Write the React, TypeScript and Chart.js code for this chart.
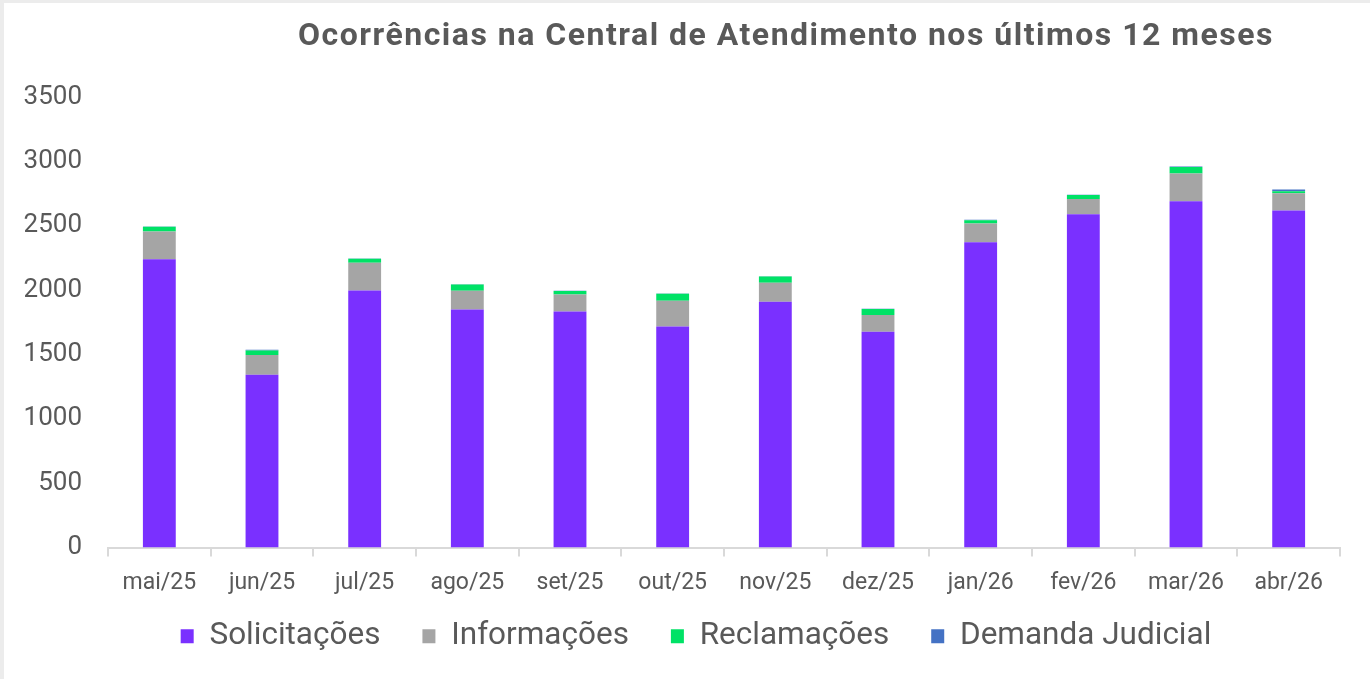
import React, { useEffect, useRef } from "react";
import { Chart, registerables } from "chart.js";

Chart.register(...registerables);

const categories = ["mai/25", "jun/25", "jul/25", "ago/25", "set/25", "out/25", "nov/25", "dez/25", "jan/26", "fev/26", "mar/26", "abr/26"];
const solicitacoes = [2240, 1342, 1997, 1849, 1834, 1717, 1909, 1676, 2372, 2589, 2690, 2618];
const informacoes = [215, 153, 215, 145, 132, 200, 147, 130, 145, 119, 215, 134];
const reclamacoes = [36, 36, 31, 49, 26, 54, 49, 46, 26, 31, 52, 16];
const demandaJudicial = [3, 6, 2, 2, 2, 2, 2, 2, 3, 2, 3, 13];
const yTicks = [0, 500, 1000, 1500, 2000, 2500, 3000, 3500];
const titleText = "Ocorrências na Central de Atendimento nos últimos 12 meses";

const FONT = "Roboto, 'Noto Sans', sans-serif";
const NARROW = "'Liberation Sans Narrow', Roboto, sans-serif";
const TEXT = "#595959";

export default function App() {
  const ref = useRef<HTMLCanvasElement | null>(null);

  useEffect(() => {
    document.body.style.margin = "0";
    document.body.style.background = "#ececec";
    if (!ref.current) return;
    const titlePlugin = {
      id: "customTitle",
      afterLayout(chart: any) {
        const lg = chart.legend;
        if (lg) {
          lg.left += 24;
          lg.right += 24;
          lg.top += 7;
          lg.bottom += 7;
        }
      },
      afterDraw(chart: any) {
        const ctx = chart.ctx;
        ctx.save();
        ctx.font = `bold 32px ${FONT}`;
        (ctx as any).letterSpacing = "1.5px";
        ctx.fillStyle = TEXT;
        ctx.textAlign = "center";
        ctx.textBaseline = "middle";
        ctx.fillText(titleText, 782, 34);
        ctx.restore();
      },
    };
    const chart = new Chart(ref.current, {
      type: "bar",
      data: {
        labels: categories,
        datasets: [
          { label: "Solicitações", data: solicitacoes, backgroundColor: "#7a30ff" },
          { label: "Informações", data: informacoes, backgroundColor: "#a5a5a5" },
          { label: "Reclamações", data: reclamacoes, backgroundColor: "#00e266" },
          { label: "Demanda Judicial", data: demandaJudicial, backgroundColor: "#4472c4" },
        ],
      },
      options: {
        animation: false,
        responsive: true,
        maintainAspectRatio: false,
        layout: { padding: { top: 94, right: 30, left: 0, bottom: 24 } },
        datasets: { bar: { categoryPercentage: 1, barPercentage: 0.32, borderWidth: 0 } },
        plugins: {
          title: { display: false },
          tooltip: { enabled: false },
          legend: {
            position: "bottom",
            labels: {
              boxWidth: 13,
              boxHeight: 14,
              padding: 42,
              color: TEXT,
              font: { family: FONT, size: 31.5 },
            },
          },
        },
        scales: {
          x: {
            stacked: true,
            afterFit: (s: any) => {
              s.height = 24;
              s._computeLabelArea = () => undefined;
            },
            grid: { offset: true, drawOnChartArea: false, drawTicks: true, tickLength: 9, color: "#d9d9d9", lineWidth: 2 },
            border: { display: true, color: "#d9d9d9", width: 2 },
            ticks: { color: TEXT, font: { family: NARROW, size: 23 }, padding: 13, maxRotation: 0, autoSkip: false },
          },
          y: {
            stacked: true,
            min: 0,
            max: 3500,
            afterFit: (s: any) => { s.width = 104; },
            afterBuildTicks: (s: any) => { s.ticks = yTicks.map((v) => ({ value: v })); },
            grid: { display: false },
            border: { display: false },
            ticks: { color: TEXT, font: { family: NARROW, size: 26 }, padding: 18, callback: (v: any) => String(v) },
          },
        },
      },
      plugins: [titlePlugin],
    });
    return () => chart.destroy();
  }, []);

  return (
    <div style={{ position: "absolute", left: 4, top: 3, width: 1366, height: 676, background: "#ffffff" }}>
      <canvas ref={ref} />
    </div>
  );
}
